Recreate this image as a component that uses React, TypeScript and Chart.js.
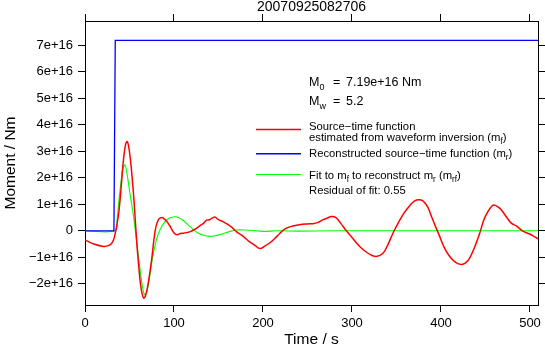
import React, { useEffect, useRef } from 'react';
import { Chart, registerables } from 'chart.js';

Chart.register(...registerables);

const TITLE = '20070925082706';
const X_LABEL = 'Time / s';
const Y_LABEL = 'Moment / Nm';
const X_TICKS = [0, 100, 200, 300, 400, 500];
const Y_TICKS = [-2e16, -1e16, 0, 1e16, 2e16, 3e16, 4e16, 5e16, 6e16, 7e16];
const X_MIN = 0;
const X_MAX = 509;
const Y_MIN = -2.8e16;
const Y_MAX = 7.92e16;
const UNIT = 1e16;

// Source-time function estimated from waveform inversion (m_f), in 1e16 Nm
const redTime = [0, 10, 21, 27, 30, 32, 34, 36, 38, 40, 42.7, 45, 47.2, 49, 51, 53, 54.7, 56.5, 58.4, 60.3, 62.2, 64, 66, 68, 70.4, 73, 75.3, 77, 79, 81, 83, 86.5, 89, 92, 95, 97.8, 100, 103.4, 107, 111, 115, 118.4, 123, 127.8, 133.4, 136.4, 140, 145.7, 150, 155, 160, 166, 170, 177.5, 185, 191, 196.5, 202, 207.5, 213, 218.8, 224, 230, 241, 250, 256, 262, 267.5, 272, 277, 282, 287, 293.7, 300, 308.7, 316, 322, 327.4, 334.8, 340, 346, 352, 358, 364.8, 370, 375, 380, 385, 389.2, 394, 398.5, 404, 409.8, 416, 423, 428, 432.2, 438, 443.5, 448, 452.8, 457, 460.3, 464, 467.8, 473, 479, 485, 490.3, 495, 499.7, 505, 509];
const redMoment = [-0.34, -0.5, -0.59, -0.55, -0.47, -0.35, -0.09, 0.25, 0.7, 1.4, 2.5, 3.15, 3.37, 3.2, 2.7, 2.0, 1.3, 0.4, -0.55, -1.3, -1.97, -2.35, -2.54, -2.45, -2.1, -1.55, -0.97, -0.45, 0.04, 0.3, 0.45, 0.5, 0.45, 0.35, 0.2, 0.04, -0.08, -0.15, -0.1, -0.09, -0.06, -0.03, 0.05, 0.16, 0.29, 0.4, 0.42, 0.52, 0.42, 0.35, 0.25, 0.1, -0.03, -0.2, -0.42, -0.55, -0.67, -0.58, -0.46, -0.3, -0.1, 0.05, 0.15, 0.23, 0.26, 0.27, 0.32, 0.42, 0.48, 0.54, 0.5, 0.3, 0.0, -0.25, -0.59, -0.8, -0.92, -0.97, -0.85, -0.55, -0.09, 0.3, 0.65, 0.95, 1.12, 1.17, 1.12, 0.9, 0.55, 0.15, -0.21, -0.65, -0.97, -1.18, -1.27, -1.2, -1.03, -0.6, -0.09, 0.4, 0.73, 0.93, 0.97, 0.9, 0.79, 0.55, 0.29, 0.18, 0.03, -0.06, -0.12, -0.22, -0.3];

// Reconstructed source-time function (m_r)
const blueTime = [0, 32.5, 34, 509];
const blueMoment = [0, 0, 7.19, 7.19];

// Fit to m_f to reconstruct m_r (m_rf)
const greenTime = [0, 34, 36, 38, 39.8, 42.7, 44.8, 46.5, 48.3, 51, 54, 57, 59.6, 62, 64.5, 67, 69.5, 72.7, 76, 79, 82, 86, 90, 95, 101, 105, 110, 115, 121, 127, 133, 140, 147, 155, 162, 170, 180, 190, 200, 215, 240, 280, 509];
const greenMoment = [0, 0, 0.42, 1.1, 1.67, 2.37, 2.49, 2.3, 1.92, 1.3, 0.67, -0.1, -0.84, -1.5, -2.1, -2.42, -2.3, -1.72, -1.0, -0.5, -0.15, 0.15, 0.35, 0.48, 0.53, 0.5, 0.4, 0.25, 0.07, -0.08, -0.17, -0.21, -0.18, -0.11, -0.03, 0.03, 0.03, 0.01, -0.02, 0.0, -0.01, 0.0, 0.0];

const RED = '#ff0000';
const BLUE = '#0000ff';
const GREEN = '#00ff00';
const FONT = '"Liberation Sans", Arial, Helvetica, sans-serif';

const toPoints = (t: number[], v: number[]) => t.map((x, i) => ({ x, y: v[i] * UNIT }));

const fmtY = (v: number) => {
  const n = Math.round(v / UNIT);
  if (n === 0) return '0';
  return (n < 0 ? '\u2212' : '') + Math.abs(n) + 'e+16';
};

type Part = [string, boolean];

function drawRich(ctx: CanvasRenderingContext2D, x: number, y: number, parts: Part[], size: number) {
  let cx = x;
  for (const [txt, sub] of parts) {
    const s = sub ? size * 0.72 : size;
    ctx.font = `${s}px ${FONT}`;
    ctx.fillText(txt, cx, sub ? y + size * 0.28 : y);
    cx += ctx.measureText(txt).width;
  }
  return cx;
}

const annotPlugin = {
  id: 'annot',
  afterDatasetsDraw(chart: any) {
    const ctx: CanvasRenderingContext2D = chart.ctx;
    ctx.save();
    ctx.fillStyle = '#000';
    ctx.textBaseline = 'alphabetic';
    ctx.textAlign = 'left';
    const tx = 309;
    const big = 12.5;
    drawRich(ctx, tx, 86, [['M', false], ['0', true]], big);
    ctx.font = `${big}px ${FONT}`;
    ctx.fillText('=', tx + 24, 86);
    ctx.fillText('7.19e+16 Nm', tx + 37, 86);
    drawRich(ctx, tx, 105, [['M', false], ['w', true]], big);
    ctx.font = `${big}px ${FONT}`;
    ctx.fillText('=', tx + 24, 105);
    ctx.fillText('5.2', tx + 37, 105);

    const sz = 11.3;
    const lines: [string, number, number][] = [[RED, 129.5, 1.5], [BLUE, 153.8, 1.5], [GREEN, 174.5, 1.1]];
    for (const [c, y, w] of lines) {
      ctx.strokeStyle = c;
      ctx.lineWidth = w;
      ctx.beginPath();
      ctx.moveTo(256, y);
      ctx.lineTo(301, y);
      ctx.stroke();
    }
    drawRich(ctx, tx, 130, [['Source\u2212time function', false]], sz);
    drawRich(ctx, tx, 140.5, [['estimated from waveform inversion (m', false], ['f', true], [')', false]], sz);
    drawRich(ctx, tx, 157, [['Reconstructed source\u2212time function (m', false], ['r', true], [')', false]], sz);
    drawRich(ctx, tx, 178.5, [['Fit to m', false], ['f', true], [' to reconstruct m', false], ['r', true], [' (m', false], ['rf', true], [')', false]], sz);
    drawRich(ctx, tx, 193.5, [['Residual of fit: 0.55', false]], sz);
    ctx.restore();
  },
};

export default function App() {
  const ref = useRef<HTMLCanvasElement | null>(null);

  useEffect(() => {
    if (!ref.current) return;
    const axisCommon = (extra: any) => ({
      type: 'linear',
      grid: { drawOnChartArea: false, drawTicks: true, tickLength: 7, color: '#000', lineWidth: 1 },
      border: { display: true, color: '#000', width: 1 },
      ...extra,
    });
    const chart = new Chart(ref.current, {
      type: 'line',
      data: {
        datasets: [
          { label: 'mf', data: toPoints(redTime, redMoment), borderColor: RED, borderWidth: 1.5, pointRadius: 0, tension: 0.35, fill: false },
          { label: 'mr', data: toPoints(blueTime, blueMoment), borderColor: BLUE, borderWidth: 1.3, pointRadius: 0, tension: 0, fill: false },
          { label: 'mrf', data: toPoints(greenTime, greenMoment), borderColor: GREEN, borderWidth: 1.1, pointRadius: 0, tension: 0.35, fill: false },
        ],
      },
      options: {
        animation: false,
        responsive: false,
        maintainAspectRatio: false,
        layout: { padding: 0 },
        plugins: { legend: { display: false }, title: { display: false }, tooltip: { enabled: false } },
        scales: {
          x: axisCommon({
            axis: 'x',
            position: 'bottom',
            min: X_MIN,
            max: X_MAX,
            afterBuildTicks: (s: any) => { s.ticks = X_TICKS.map((value) => ({ value })); },
            afterFit: (s: any) => { s.height = 48; },
            ticks: { color: '#000', font: { family: FONT, size: 13 }, padding: 4, maxRotation: 0, autoSkip: false, callback: (v: any) => String(v) },
            title: { display: true, text: X_LABEL, color: '#000', font: { family: FONT, size: 15.5 }, padding: { top: 0, bottom: 4 } },
          }),
          x2: axisCommon({
            axis: 'x',
            position: 'top',
            min: X_MIN,
            max: X_MAX,
            afterBuildTicks: (s: any) => { s.ticks = X_TICKS.map((value) => ({ value })); },
            afterFit: (s: any) => { s.height = 21; },
            ticks: { display: false },
            title: { display: true, text: TITLE, color: '#000', font: { family: FONT, size: 14, lineHeight: 1 }, padding: { top: 0, bottom: 0 } },
          }),
          y: axisCommon({
            axis: 'y',
            position: 'left',
            min: Y_MIN,
            max: Y_MAX,
            afterBuildTicks: (s: any) => { s.ticks = Y_TICKS.map((value) => ({ value })); },
            afterFit: (s: any) => { s.width = 85; },
            ticks: { color: '#000', font: { family: FONT, size: 13 }, padding: 5, autoSkip: false, callback: (v: any) => fmtY(v) },
            title: { display: true, text: Y_LABEL, color: '#000', font: { family: FONT, size: 15.5 }, padding: { top: 1, bottom: 0 } },
          }),
          y2: axisCommon({
            axis: 'y',
            position: 'right',
            min: Y_MIN,
            max: Y_MAX,
            afterBuildTicks: (s: any) => { s.ticks = Y_TICKS.map((value) => ({ value })); },
            afterFit: (s: any) => { s.width = 7; },
            ticks: { display: false },
          }),
        },
      } as any,
      plugins: [annotPlugin],
    } as any);
    return () => chart.destroy();
  }, []);

  return (
    <div style={{ position: 'fixed', left: 0, top: 0, width: 545, height: 353, background: '#fff' }}>
      <canvas ref={ref} width={545} height={353} style={{ display: 'block', width: 545, height: 353 }} />
    </div>
  );
}
